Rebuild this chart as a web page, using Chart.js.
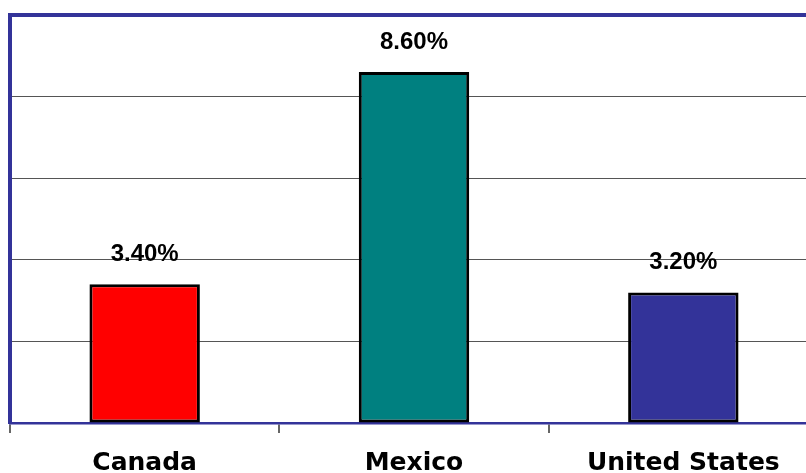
<!DOCTYPE html>
<html>
<head>
<meta charset="utf-8">
<script src="https://cdn.jsdelivr.net/npm/chart.js@4.4.1/dist/chart.umd.min.js"></script>
<style>
  html, body { margin: 0; padding: 0; background: #fff; }
  #wrap { width: 806px; height: 473px; overflow: hidden; position: relative; }
  #box { width: 820px; height: 473px; }
</style>
</head>
<body>
<div id="wrap"><div id="box"><canvas id="rateChart"></canvas></div></div>
<script>
const countries = ['Canada', 'Mexico', 'United States'];
const rates = [3.4, 8.6, 3.2];
const barColors = ['#FF0000', '#008080', '#333399'];
const yTicks = [0, 2, 4, 6, 8, 10];

const NAVY = '#333399';

// writes the percentage over each bar
const valueLabels = {
    id: 'valueLabels',
    afterDatasetsDraw(chart) {
        const ctx = chart.ctx;
        const meta = chart.getDatasetMeta(0);
        ctx.save();
        ctx.font = 'bold 24px "Liberation Sans", Arial, sans-serif';
        ctx.fillStyle = '#000';
        ctx.textAlign = 'center';
        ctx.textBaseline = 'middle';
        meta.data.forEach((bar, i) => {
            ctx.fillText(rates[i].toFixed(2) + '%', bar.x, bar.y - 30);
        });
        ctx.restore();
    }
};

document.addEventListener('DOMContentLoaded', function() {
    const ctx = document.getElementById('rateChart').getContext('2d');
    new Chart(ctx, {
        type: 'bar',
        data: {
            labels: countries,
            datasets: [{
                data: rates,
                backgroundColor: barColors,
                borderColor: '#000',
                borderWidth: 3,
                borderSkipped: false,
                barPercentage: 0.41,
                categoryPercentage: 1
            }]
        },
        options: {
            responsive: true,
            maintainAspectRatio: false,
            animation: false,
            layout: { padding: { left: 10, top: 15, right: 2, bottom: 0 } },
            plugins: {
                legend: { display: false },
                tooltip: { enabled: false }
            },
            scales: {
                x: {
                    afterFit: (scale) => { scale.height = 50; },
                    grid: {
                        offset: true,
                        drawOnChartArea: false,
                        drawTicks: true,
                        tickLength: 10,
                        color: '#666',
                        lineWidth: 2
                    },
                    border: { display: true, color: NAVY, width: 2.5 },
                    ticks: {
                        color: '#000',
                        padding: 15,
                        font: { family: '"DejaVu Sans", Verdana, sans-serif', size: 25, weight: 'bold' }
                    }
                },
                y: {
                    min: yTicks[0],
                    max: yTicks[yTicks.length - 1],
                    afterBuildTicks: (scale) => { scale.ticks = yTicks.map(v => ({ value: v })); },
                    ticks: { display: false },
                    grid: {
                        drawTicks: false,
                        color: (c) => (c.tick && (c.tick.value === 10 || c.tick.value === 0)) ? NAVY : '#555',
                        lineWidth: (c) => (c.tick && c.tick.value === 10) ? 4 : 1
                    },
                    border: { display: true, color: NAVY, width: 4 }
                }
            }
        },
        plugins: [valueLabels]
    });
});
</script>
</body>
</html>
